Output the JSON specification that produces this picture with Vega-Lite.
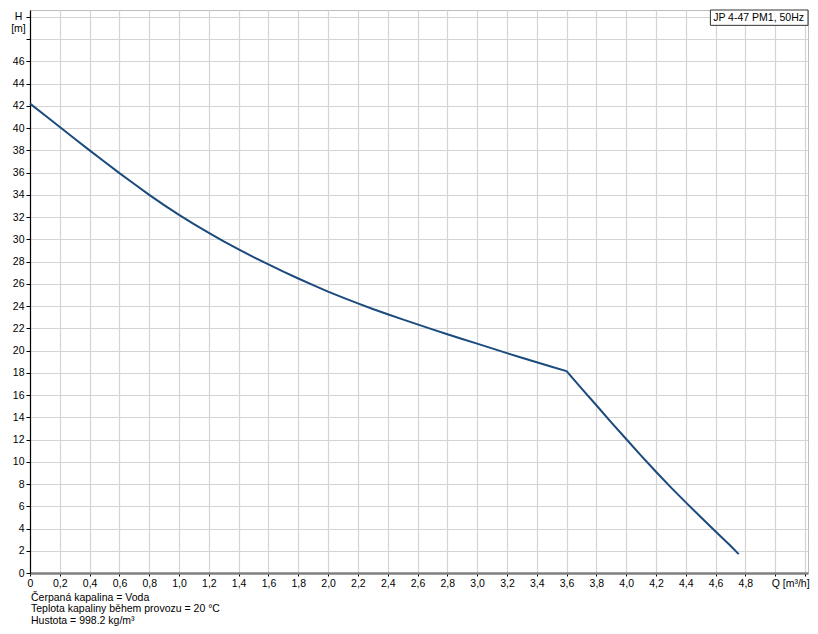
{
  "$schema": "https://vega.github.io/schema/vega-lite/v6.json",
  "width": 778,
  "height": 563,
  "autosize": {"type": "none"},
  "padding": {"left": 30, "top": 10, "right": 10, "bottom": 61},
  "background": "white",
  "config": {
    "font": "Liberation Sans",
    "view": {"stroke": "#bdbdbd", "strokeWidth": 1}
  },
  "title": {
    "text": ["Čerpaná kapalina = Voda", "Teplota kapaliny během provozu = 20 °C", "Hustota = 998.2 kg/m³"],
    "orient": "bottom",
    "anchor": "start",
    "frame": "group",
    "font": "Liberation Sans",
    "fontSize": 10.5,
    "fontWeight": "normal",
    "color": "#000000",
    "lineHeight": 11.7,
    "offset": 4,
    "dx": 1
  },
  "datasets": {
    "curve": [
      {"q": 0.0, "h": 42.2},
      {"q": 0.1, "h": 41.15},
      {"q": 0.2, "h": 40.1},
      {"q": 0.3, "h": 39.05},
      {"q": 0.4, "h": 38.0},
      {"q": 0.5, "h": 36.98},
      {"q": 0.6, "h": 35.95},
      {"q": 0.7, "h": 34.98},
      {"q": 0.8, "h": 34.0},
      {"q": 0.9, "h": 33.08},
      {"q": 1.0, "h": 32.2},
      {"q": 1.1, "h": 31.37},
      {"q": 1.2, "h": 30.58},
      {"q": 1.3, "h": 29.82},
      {"q": 1.4, "h": 29.1},
      {"q": 1.5, "h": 28.4},
      {"q": 1.6, "h": 27.74},
      {"q": 1.7, "h": 27.1},
      {"q": 1.8, "h": 26.48},
      {"q": 1.9, "h": 25.88},
      {"q": 2.0, "h": 25.3},
      {"q": 2.1, "h": 24.76},
      {"q": 2.2, "h": 24.24},
      {"q": 2.3, "h": 23.74},
      {"q": 2.4, "h": 23.26},
      {"q": 2.5, "h": 22.8},
      {"q": 2.6, "h": 22.35},
      {"q": 2.7, "h": 21.9},
      {"q": 2.8, "h": 21.46},
      {"q": 2.9, "h": 21.04},
      {"q": 3.0, "h": 20.62},
      {"q": 3.1, "h": 20.2},
      {"q": 3.2, "h": 19.77},
      {"q": 3.3, "h": 19.35},
      {"q": 3.4, "h": 18.95},
      {"q": 3.5, "h": 18.55},
      {"q": 3.6, "h": 18.15},
      {"q": 3.7, "h": 16.6},
      {"q": 3.8, "h": 15.08},
      {"q": 3.9, "h": 13.55},
      {"q": 4.0, "h": 12.05},
      {"q": 4.1, "h": 10.56},
      {"q": 4.2, "h": 9.1},
      {"q": 4.3, "h": 7.7},
      {"q": 4.4, "h": 6.35},
      {"q": 4.5, "h": 5.03},
      {"q": 4.6, "h": 3.73},
      {"q": 4.7, "h": 2.45},
      {"q": 4.755, "h": 1.7}
    ],
    "legend": [{"name": "JP 4-47 PM1, 50Hz"}]
  },
  "encoding": {
    "x": {
      "type": "quantitative",
      "scale": {"domain": [0, 5.22], "nice": false, "zero": false},
      "axis": {
        "title": null,
        "values": [0, 0.2, 0.4, 0.6, 0.8, 1.0, 1.2, 1.4, 1.6, 1.8, 2.0, 2.2, 2.4, 2.6, 2.8, 3.0, 3.2, 3.4, 3.6, 3.8, 4.0, 4.2, 4.4, 4.6, 4.8, 5.0, 5.2],
        "labelExpr": "abs(datum.value - 5) < 0.01 ? 'Q [m³/h]' : datum.value > 5.1 ? '' : datum.value == 0 ? '0' : replace(format(datum.value, '.1f'), '.', ',')",
        "labelAlign": {"condition": {"test": "abs(datum.value - 5) < 0.01", "value": "left"}, "value": "center"},
        "labelOffset": {"condition": {"test": "abs(datum.value - 5) < 0.01", "value": -4}, "value": 0},
        "labelFont": "Liberation Sans",
        "labelFontSize": 10.5,
        "labelColor": "#000000",
        "labelPadding": 2,
        "labelBound": false,
        "labelFlush": false,
        "labelOverlap": false,
        "domainColor": "#808080",
        "domainWidth": 2.5,
        "tickColor": "#000000",
        "tickSize": 3,
        "gridColor": "#d4d4d4",
        "gridWidth": 1.2
      }
    },
    "y": {
      "type": "quantitative",
      "scale": {"domain": [0, 50.62], "nice": false, "zero": false},
      "axis": {
        "title": ["H", "[m]"],
        "titleAngle": 0,
        "titleAlign": "center",
        "titleBaseline": "top",
        "titleX": -12,
        "titleY": 1,
        "titleFont": "Liberation Sans",
        "titleFontSize": 10.5,
        "titleFontWeight": "normal",
        "titleColor": "#000000",
        "titleLineHeight": 12,
        "values": [0, 2, 4, 6, 8, 10, 12, 14, 16, 18, 20, 22, 24, 26, 28, 30, 32, 34, 36, 38, 40, 42, 44, 46, 48, 50],
        "labelExpr": "datum.value > 47 ? '' : datum.label",
        "labelFont": "Liberation Sans",
        "labelFontSize": 10.5,
        "labelColor": "#000000",
        "labelPadding": 2,
        "labelBound": false,
        "labelFlush": false,
        "labelOverlap": false,
        "domainColor": "#000000",
        "domainWidth": 1.2,
        "tickColor": "#000000",
        "tickSize": 4,
        "gridColor": "#d4d4d4",
        "gridWidth": 1.2
      }
    }
  },
  "layer": [
    {
      "data": {"name": "curve"},
      "mark": {"type": "line", "color": "#1b4b7d", "strokeWidth": 2, "interpolate": "linear", "strokeJoin": "round"},
      "encoding": {
        "x": {"field": "q", "type": "quantitative"},
        "y": {"field": "h", "type": "quantitative"}
      }
    },
    {
      "data": {"name": "legend"},
      "mark": {"type": "rect", "fill": "white", "stroke": "#333333", "strokeWidth": 1},
      "encoding": {
        "x": {"datum": 4.565, "type": "quantitative"},
        "x2": {"datum": 5.22},
        "y": {"datum": 49.24, "type": "quantitative"},
        "y2": {"datum": 50.62}
      }
    },
    {
      "data": {"name": "legend"},
      "mark": {"type": "text", "align": "right", "baseline": "middle", "dx": -4, "fontSize": 10.5, "font": "Liberation Sans", "color": "#000000"},
      "encoding": {
        "x": {"datum": 5.22, "type": "quantitative"},
        "y": {"datum": 49.93, "type": "quantitative"},
        "text": {"field": "name"}
      }
    }
  ]
}
